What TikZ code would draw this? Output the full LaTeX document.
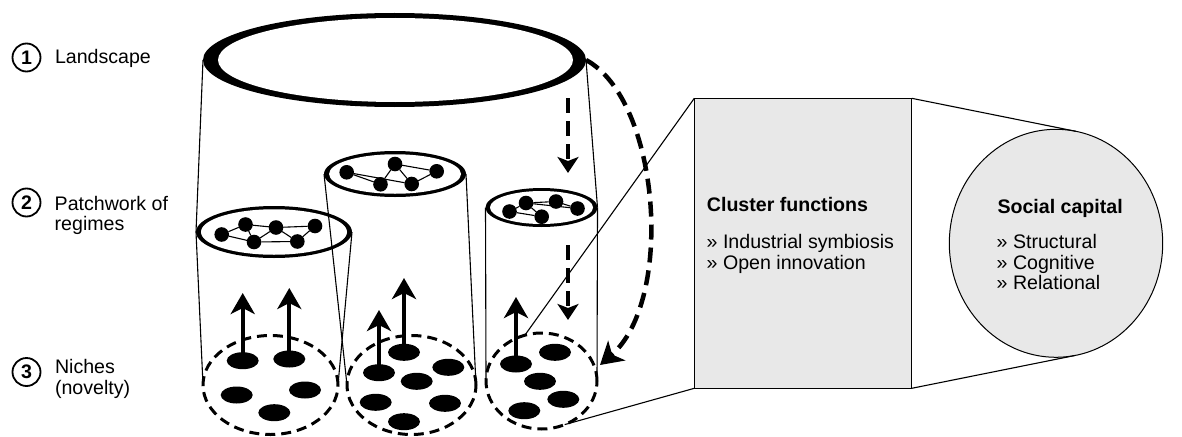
\documentclass[tikz,border=0pt]{standalone}
\usepackage{fontspec}
\setmainfont{Liberation Sans}
\usetikzlibrary{shapes.geometric, arrows.meta}
\definecolor{panel}{RGB}{232,232,232}
\begin{document}
\begin{tikzpicture}[x=1pt, y=-1pt,
  ringfill/.style={ellipse, fill=black, inner sep=0pt, outer sep=0pt},
  holefill/.style={ellipse, fill=white, inner sep=0pt, outer sep=0pt},
  nicheline/.style={ellipse, draw, line width=3pt, dash pattern=on 10pt off 6pt, inner sep=0pt, outer sep=0pt},
  seeddot/.style={ellipse, fill=black, minimum width=32pt, minimum height=17pt, inner sep=0pt},
  actordot/.style={circle, fill=black, minimum size=14.6pt, inner sep=0pt, outer sep=0pt},
  tieline/.style={line width=1.1pt},
  wallline/.style={line width=1.1pt},
  risearrow/.style={line width=4pt, -{Stealth[length=21pt,width=24pt,inset=6pt]}},
  pressarrow/.style={line width=4.5pt, dash pattern=on 15pt off 8pt, -{Stealth[length=16pt,width=21pt,inset=4pt]}},
  bigpress/.style={pressarrow, -{Stealth[length=22pt,width=26pt,inset=6pt]}},
  plaintxt/.style={font=\fontsize{19.6}{21}\selectfont, inner sep=0pt, anchor=base west},
  boldtxt/.style={plaintxt, font=\fontsize{19.6}{21}\selectfont\bfseries},
  numcircle/.style={circle, draw, line width=1.8pt, minimum size=28pt, inner sep=0pt, font=\fontsize{19.6}{21}\selectfont\bfseries},
  panelbox/.style={draw, line width=1pt, fill=panel, inner sep=0pt, outer sep=0pt}
]
\useasboundingbox (0,0) rectangle (1182,436);

% ---- level labels ----
\node[numcircle] (n1) at (26.5,57.5) {1};
\node[numcircle] (n2) at (26.5,202.5) {2};
\node[numcircle] (n3) at (26.5,372) {3};
\node[plaintxt] (l1) at (54.8,63.3) {Landscape};
\node[plaintxt] (l2a) at (54.5,210) {Patchwork of};
\node[plaintxt] (l2b) at (54.5,230.8) {regimes};
\node[plaintxt] (l3a) at (54.8,373.3) {Niches};
\node[plaintxt] (l3b) at (54.8,394) {(novelty)};

% ---- landscape ring ----
\node[ringfill, minimum width=383pt, minimum height=94pt] (land) at (394.5,60) {};
\node[holefill, minimum width=355pt, minimum height=84pt] (landin) at (395.5,60) {};

% ---- regime rings ----
\node[ringfill, minimum width=156pt, minimum height=52pt] (reg1) at (274,232) {};
\node[holefill, minimum width=146pt, minimum height=45.5pt] (reg1in) at (274,232) {};
\node[ringfill, minimum width=142pt, minimum height=46pt] (reg2) at (395,174) {};
\node[holefill, minimum width=132pt, minimum height=39.5pt] (reg2in) at (395,174) {};
\node[ringfill, minimum width=112pt, minimum height=39pt] (reg3) at (541.5,207.5) {};
\node[holefill, minimum width=103pt, minimum height=33pt] (reg3in) at (541.5,207.5) {};

% ---- niche ellipses ----
\node[nicheline, minimum width=135pt, minimum height=99pt] (niche1) at (270.5,385) {};
\node[nicheline, minimum width=129pt, minimum height=99pt] (niche2) at (411.5,385) {};
\node[nicheline, minimum width=111pt, minimum height=96pt] (niche3) at (541.5,381) {};

% ---- cylinder walls ----
\draw[wallline] (land.west) -- (reg1.west);
\draw[wallline] (land.east) -- (reg3.east);
\draw[wallline] (reg1.west) -- (niche1.west);
\draw[wallline] (reg1.east) -- (niche1.east);
\draw[wallline] (reg2.west) -- (niche2.west);
\draw[wallline] (reg2.east) -- (niche2.east);
\draw[wallline] (reg3.west) -- (niche3.west);
\draw[wallline] (reg3.east) -- (niche3.east);

% ---- regime networks ----
\node[actordot] (a1) at (221.7,234.5) {};
\node[actordot] (a2) at (245.5,224.5) {};
\node[actordot] (a3) at (254,242) {};
\node[actordot] (a4) at (276,227.5) {};
\node[actordot] (a5) at (297.3,241.5) {};
\node[actordot] (a6) at (315,226) {};
\foreach \p/\q in {a1/a2, a1/a3, a2/a3, a2/a4, a3/a4, a3/a5, a4/a5, a4/a6, a5/a6}
  \draw[tieline] (\p) -- (\q);

\node[actordot] (b1) at (346.7,172.3) {};
\node[actordot] (b2) at (395,164) {};
\node[actordot] (b3) at (380.5,184.3) {};
\node[actordot] (b4) at (411.7,184) {};
\node[actordot] (b5) at (436.7,171.3) {};
\foreach \p/\q in {b1/b3, b1/b4, b2/b3, b2/b4, b2/b5, b4/b5}
  \draw[tieline] (\p) -- (\q);

\node[actordot] (c1) at (509.5,211.5) {};
\node[actordot] (c2) at (526,203) {};
\node[actordot] (c3) at (541.7,216.7) {};
\node[actordot] (c4) at (556,201.5) {};
\node[actordot] (c5) at (577.5,208.5) {};
\foreach \p/\q in {c1/c2, c1/c3, c2/c3, c2/c4, c2/c5, c4/c5}
  \draw[tieline] (\p) -- (\q);

% ---- niche seeds ----
\node[seeddot] (d1) at (242.7,360.7) {};
\node[seeddot] (d2) at (289.3,359) {};
\node[seeddot] (d3) at (236.7,395) {};
\node[seeddot] (d4) at (305,390) {};
\node[seeddot] (d5) at (274.3,412.7) {};
\node[seeddot] (e1) at (404,352.3) {};
\node[seeddot] (e2) at (379,372.7) {};
\node[seeddot] (e3) at (448.3,367.3) {};
\node[seeddot] (e4) at (416.7,381.3) {};
\node[seeddot] (e5) at (375.7,402.3) {};
\node[seeddot] (e6) at (445,403.3) {};
\node[seeddot] (e7) at (404,421.7) {};
\node[seeddot] (f1) at (516,364) {};
\node[seeddot] (f2) at (555,352.3) {};
\node[seeddot] (f3) at (540,381.3) {};
\node[seeddot] (f4) at (563.3,399.3) {};
\node[seeddot] (f5) at (524.3,410.7) {};

% ---- upward growth arrows ----
\coordinate (t1) at (242.7,293);
\coordinate (t2) at (289.3,288);
\coordinate (t3) at (379,310);
\coordinate (t4) at (404,278);
\coordinate (t5) at (516,297);
\draw[risearrow] (d1.center) -- (t1);
\draw[risearrow] (d2.center) -- (t2);
\draw[risearrow] (e2.center) -- (t3);
\draw[risearrow] (e1.center) -- (t4);
\draw[risearrow] (f1.center) -- (t5);

% ---- landscape pressure (dashed) ----
\coordinate (p1s) at (568,98);
\coordinate (p1e) at (568,173);
\coordinate (p2s) at (568,245);
\coordinate (p2e) at (568,320);
\coordinate (p3e) at (600,365);
\draw[pressarrow] (p1s) -- (p1e);
\draw[pressarrow] (p2s) -- (p2e);
\draw[bigpress] (land.east) .. controls (660,100) and (675,300) .. (p3e);

% ---- zoom panels ----
\node[panelbox, minimum width=217.4pt, minimum height=290pt, anchor=north west] (cf) at (694.3,98.3) {};
\node[panelbox, ellipse, minimum width=213.4pt, minimum height=228pt] (sc) at (1056,243.3) {};
\draw[wallline] (cf.north west) -- (niche3.110);
\draw[wallline] (cf.south west) -- (niche3.-62);
\draw[wallline] (cf.north east) -- (sc.80);
\draw[wallline] (cf.south east) -- (sc.-80);

\node[boldtxt] (cfh) at (706.7,211.7) {Cluster functions};
\node[plaintxt] (cf1) at (706.5,248.3) {» Industrial symbiosis};
\node[plaintxt] (cf2) at (706.5,269.3) {» Open innovation};

\node[boldtxt] (sch) at (997.3,213.3) {Social capital};
\node[plaintxt] (sc1) at (996.5,248.3) {» Structural};
\node[plaintxt] (sc2) at (996.5,269) {» Cognitive};
\node[plaintxt] (sc3) at (996.5,289.7) {» Relational};
\end{tikzpicture}
\end{document}
